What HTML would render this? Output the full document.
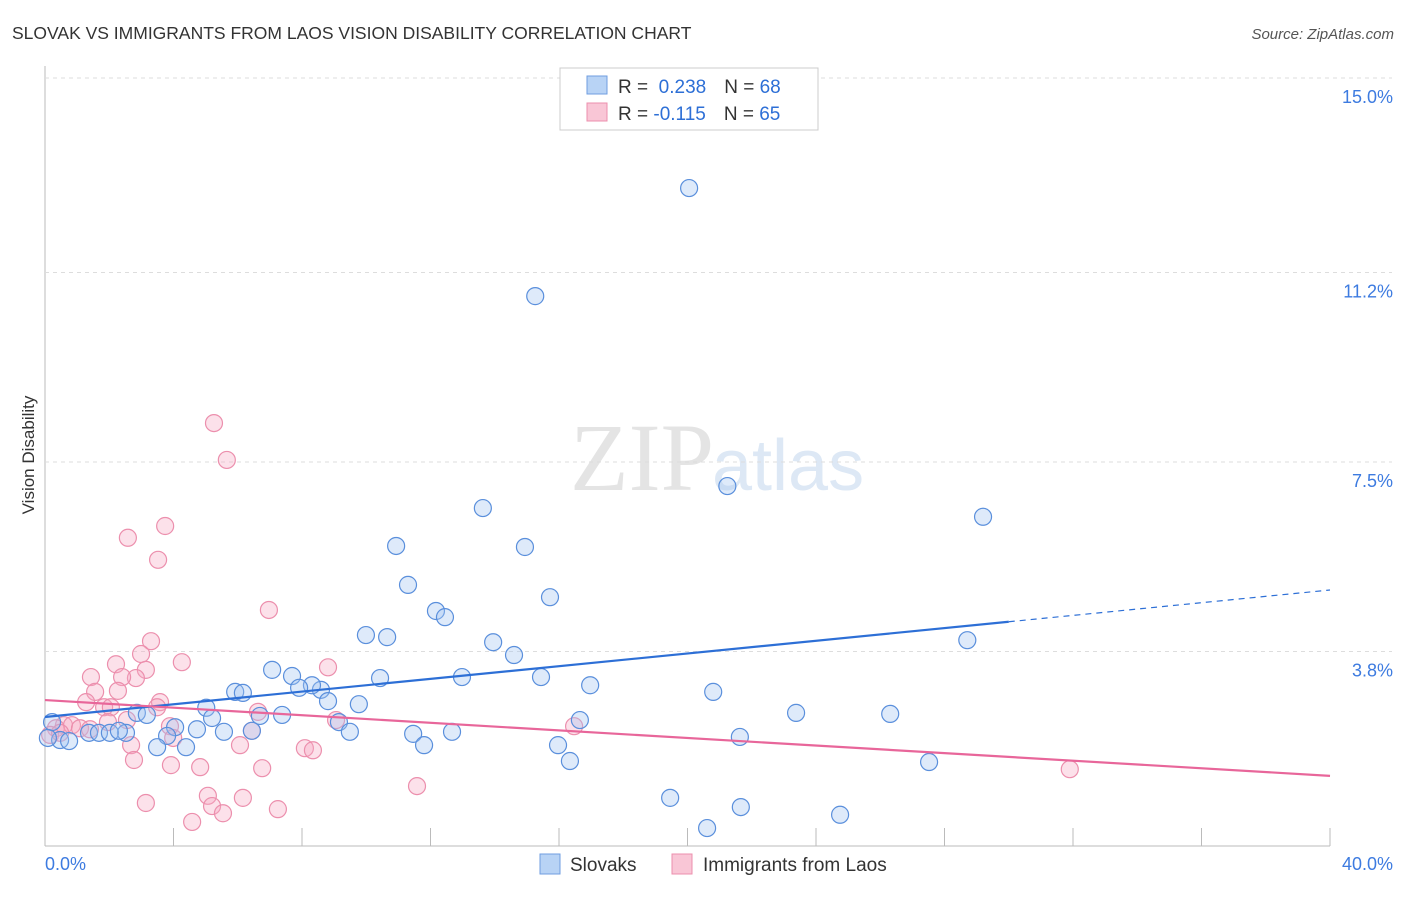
<!DOCTYPE html>
<html><head><meta charset="utf-8"><style>
body{margin:0;background:#fff;font-family:"Liberation Sans",sans-serif;}
#wrap{position:relative;width:1406px;height:892px;}
</style></head><body>
<div id="wrap">
<svg id="svg" width="1406" height="892" xmlns="http://www.w3.org/2000/svg">
<text x="12" y="39" font-size="17.5" fill="#333">SLOVAK VS IMMIGRANTS FROM LAOS VISION DISABILITY CORRELATION CHART</text>
<text x="1394" y="39" font-size="15" fill="#555" text-anchor="end" font-style="italic">Source: ZipAtlas.com</text>
<text x="34" y="455" font-size="17" fill="#333" text-anchor="middle" transform="rotate(-90 34 455)">Vision Disability</text>
<text x="714" y="490" font-size="96" fill="#e4e4e4" text-anchor="end" font-family="Liberation Serif">ZIP</text>
<text x="712" y="490" font-size="72" fill="#dde8f5">atlas</text>
<g id="grid"></g><g id="pts"></g><g id="lines"></g>
<g>
<rect x="560" y="68" width="258" height="62" fill="#fff" stroke="#ccc"/>
<rect x="587" y="76" width="20" height="18" fill="#b8d3f5" stroke="#6f9ee0"/>
<rect x="587" y="103" width="20" height="18" fill="#f9c6d6" stroke="#ec8fad"/>
<text x="618" y="93" font-size="19" fill="#333">R = <tspan fill="#2d6fd6">&#160;0.238</tspan><tspan dx="18">N = </tspan><tspan fill="#2d6fd6">68</tspan></text>
<text x="618" y="120" font-size="19" fill="#333">R = <tspan fill="#2d6fd6">-0.115</tspan><tspan dx="18">N = </tspan><tspan fill="#2d6fd6">65</tspan></text>
</g>
<g>
<rect x="540" y="854" width="20" height="20" fill="#b8d3f5" stroke="#6f9ee0"/>
<text x="570" y="871" font-size="19" fill="#333">Slovaks</text>
<rect x="672" y="854" width="20" height="20" fill="#f9c6d6" stroke="#ec8fad"/>
<text x="703" y="871" font-size="19" fill="#333">Immigrants from Laos</text>
</g>
</svg></div>
<script>
const yTicks=[3.8,7.5,11.2,15.0];
const yTickLabels=["3.8%","7.5%","11.2%","15.0%"];
const xTickCount=10;
const blueX=[20.05,15.26,21.24,13.63,29.2,10.93,14.94,11.3,15.72,12.17,12.45,9.99,10.65,13.95,28.71,14.6,7.07,7.69,10.43,12.98,15.44,16.97,5.92,6.16,8.59,20.8,8.31,7.91,8.81,9.77,5.02,2.86,3.17,6.69,7.38,5.2,16.65,23.38,26.31,9.15,4.05,4.73,5.57,6.44,9.49,2.52,11.46,12.67,3.8,21.63,0.22,0.47,0.75,1.37,1.68,2.02,2.3,0.09,11.8,15.97,3.49,4.39,16.34,27.52,19.46,21.66,24.75,20.61];
const blueY=[12.85,10.74,7.03,6.6,6.43,5.86,5.84,5.1,4.86,4.59,4.47,4.12,4.08,3.98,4.02,3.73,3.44,3.32,3.28,3.3,3.3,3.14,3.01,2.99,3.05,3.01,3.14,3.09,2.83,2.77,2.7,2.6,2.56,2.54,2.56,2.5,2.46,2.60,2.58,2.42,2.32,2.28,2.23,2.25,2.23,2.21,2.19,2.23,2.15,2.13,2.42,2.07,2.05,2.21,2.21,2.21,2.25,2.11,1.97,1.97,1.93,1.93,1.66,1.64,0.94,0.76,0.61,0.35];
const pinkX=[5.26,5.66,3.74,2.58,3.52,6.97,3.3,2.99,4.26,2.21,8.81,3.14,1.43,2.83,2.4,1.56,2.27,3.58,3.49,1.28,1.84,2.05,6.63,9.06,2.55,1.96,16.47,0.59,0.84,0.34,1.09,1.4,3.89,6.44,3.99,0.16,0.47,2.68,6.07,8.09,8.34,2.77,3.92,4.83,6.76,31.9,11.58,5.07,3.14,5.2,6.16,7.25,5.54,4.58];
const pinkY=[8.26,7.54,6.25,6.02,5.59,4.61,4.0,3.75,3.59,3.55,3.49,3.44,3.3,3.28,3.3,3.01,3.03,2.81,2.71,2.81,2.71,2.71,2.62,2.46,2.46,2.42,2.34,2.36,2.36,2.3,2.3,2.28,2.34,2.25,2.11,2.17,2.21,1.97,1.97,1.91,1.87,1.68,1.58,1.54,1.52,1.5,1.17,0.98,0.84,0.78,0.94,0.72,0.64,0.47];
const blueFit=[2.52,0.062];
const pinkFit=[2.85,-0.037];
const X0=45,X1=1330,Y0=846,YTOP=78;
const sx=v=>X0+v/40*(X1-X0);
const sy=v=>Y0-v/15*(Y0-YTOP);
const NS="http://www.w3.org/2000/svg";
function mk(tag,attrs,parent){const e=document.createElementNS(NS,tag);for(const k in attrs)e.setAttribute(k,attrs[k]);parent.appendChild(e);return e;}
const grid=document.getElementById('grid');
let ax=mk('line',{x1:X0,x2:X0,y1:66,y2:Y0,stroke:'#bbb'},grid);


let bx=mk('line',{x1:X0,x2:X1,y1:Y0,y2:Y0,stroke:'#bbb'},grid);


yTicks.forEach((t,i)=>{
  const g=mk('line',{x1:X0,x2:1392,y1:sy(t),y2:sy(t),stroke:'#ddd','stroke-dasharray':'4,4'},grid);
  
  
  const tx=mk('text',{x:1393,y:sy(t)+25,'font-size':18,fill:'#3d7be0','text-anchor':'end'},grid);
  tx.textContent=yTickLabels[i];
  
  
});
for(let i=1;i<=xTickCount;i++){
  const x=sx(i*40/xTickCount);
  const t=mk('line',{x1:x,x2:x,y1:828,y2:Y0,stroke:'#bbb'},grid);
  
  
}
const xl=mk('text',{x:45,y:870,'font-size':18,fill:'#3d7be0'},grid);xl.textContent='0.0%';


const xr=mk('text',{x:1393,y:870,'font-size':18,fill:'#3d7be0','text-anchor':'end'},grid);xr.textContent='40.0%';


const pts=document.getElementById('pts');
pinkX.forEach((x,i)=>{const c=mk('circle',{cx:sx(x),cy:sy(pinkY[i]),r:8.5,fill:'rgba(246,170,195,0.35)',stroke:'#ec8fad','stroke-width':1.2},pts);

});
blueX.forEach((x,i)=>{const c=mk('circle',{cx:sx(x),cy:sy(blueY[i]),r:8.5,fill:'rgba(160,196,240,0.35)',stroke:'#5a8fdc','stroke-width':1.2},pts);

});
const L=document.getElementById('lines');
const f=(p,x)=>p[0]+p[1]*x;
let l1=mk('line',{x1:sx(0),y1:sy(f(blueFit,0)),x2:sx(30),y2:sy(f(blueFit,30)),stroke:'#2d6fd6','stroke-width':2.2},L);


let l2=mk('line',{x1:sx(30),y1:sy(f(blueFit,30)),x2:sx(40),y2:sy(f(blueFit,40)),stroke:'#2d6fd6','stroke-width':1.2,'stroke-dasharray':'6,5'},L);


let l3=mk('line',{x1:sx(0),y1:sy(f(pinkFit,0)),x2:sx(40),y2:sy(f(pinkFit,40)),stroke:'#e8669a','stroke-width':2.2},L);


</script>
</body></html>
